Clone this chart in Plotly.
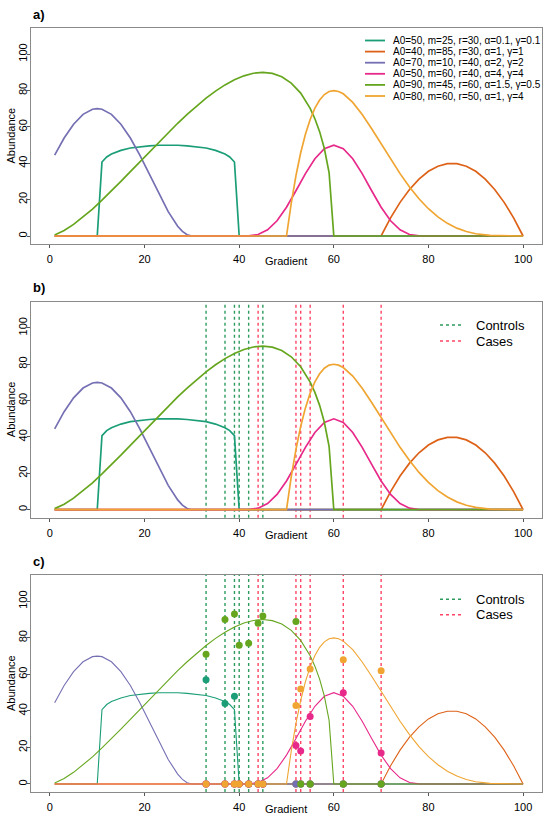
import plotly.graph_objects as go

# species response curves (gradient position, abundance)
sp1_x = [1, 10, 11, 12, 13, 14, 15, 17, 19, 21, 23, 25, 27, 29, 31, 33, 35, 36, 37, 38, 39, 40, 100]
sp1_y = [0, 0, 40.7, 43.5, 45.1, 46.3, 47.1, 48.4, 49.1, 49.6, 49.9, 50, 49.9, 49.6, 49.1, 48.4, 47.1, 46.3, 45.1, 43.5, 40.7, 0, 0]

sp2_x = [1, 70, 72, 74, 76, 78, 80, 82, 84, 85, 86, 88, 90, 92, 94, 96, 98, 100]
sp2_y = [0, 0, 9.96, 18.5, 25.6, 31.3, 35.6, 38.4, 39.8, 40, 39.8, 38.4, 35.6, 31.3, 25.6, 18.5, 9.96, 0]

sp3_x = [1, 3, 5, 7, 9, 10, 11, 13, 15, 17, 19, 21, 23, 25, 27, 28, 29, 30, 100]
sp3_y = [44.5, 53.9, 61.5, 66.9, 69.7, 70, 69.7, 66.9, 61.5, 53.9, 44.5, 34.1, 23.4, 13.4, 5.39, 2.53, 0.67, 0, 0]

sp4_x = [1, 40, 42, 44, 46, 48, 50, 52, 54, 56, 58, 60, 62, 64, 66, 68, 70, 72, 74, 76, 78, 80, 100]
sp4_y = [0, 0, 0.07, 0.84, 3.38, 8.39, 15.8, 24.9, 34.3, 42.5, 48.0, 50, 48.0, 42.5, 34.3, 24.9, 15.8, 8.39, 3.38, 0.84, 0.07, 0, 0]

sp5_x = [1, 3, 5, 7, 9, 11, 13, 15, 17, 19, 21, 23, 25, 27, 29, 31, 33, 35, 37, 39, 41, 43, 45,
         47, 49, 51, 53, 55, 56, 57, 58, 59, 60, 100]
sp5_y = [0.59, 3.02, 6.38, 10.4, 14.8, 19.7, 24.7, 30.0, 35.4, 40.8, 46.3, 51.7, 56.9, 62.0, 66.9, 71.6,
         75.8, 79.7, 83.1, 85.9, 88.1, 89.5, 90, 89.4, 87.6, 84.1, 78.6, 70.2, 64.5, 57.4, 48.1, 34.9, 0, 0]

sp6_x = [1, 50, 51, 52, 53, 54, 55, 56, 57, 58, 59, 60, 61, 62, 64, 66, 68, 70, 72, 74, 76, 78, 80,
         82, 84, 86, 88, 90, 93, 96, 100]
sp6_y = [0, 0, 18.0, 33.2, 45.8, 56.0, 64.1, 70.3, 74.8, 77.8, 79.5, 80, 79.5, 78.2, 73.5, 66.8, 59.0,
         50.6, 42.3, 34.3, 27.0, 20.5, 15.0, 10.5, 6.96, 4.32, 2.46, 1.25, 0.32, 0.04, 0]

labels = ["A0=50, m=25, r=30, α=0.1, γ=0.1",
          "A0=40, m=85, r=30, α=1, γ=1",
          "A0=70, m=10, r=40, α=2, γ=2",
          "A0=50, m=60, r=40, α=4, γ=4",
          "A0=90, m=45, r=60, α=1.5, γ=0.5",
          "A0=80, m=60, r=50, α=1, γ=4"]
colors = ["#1B9E77", "#DD6218", "#7570B3", "#E7298A", "#66A61E", "#F0A532"]

# sampled sites
controls = [33, 37, 39, 40, 42, 45]
cases = [44, 52, 53, 55, 62, 70]
sites = [33, 37, 39, 40, 42, 44, 45, 52, 53, 55, 62, 70]

# observed abundances at the sites
obs1 = [57, 44, 48, 0, 0, 0, 0, 0, 0, 0, 0, 0]
obs2 = [0, 0, 0, 0, 0, 0, 0, 0, 0, 0, 0, 0]
obs3 = [0, 0, 0, 0, 0, 0, 0, 0, 0, 0, 0, 0]
obs4 = [0, 0, 0, 0, 0, 0, 0, 21, 18, 37, 50, 17]
obs5 = [71, 90, 93, 76, 77, 88, 92, 89, 0, 0, 0, 0]
obs6 = [0, 0, 0, 0, 0, 0, 0, 43, 52, 63, 68, 62]

curves = [(sp1_x, sp1_y), (sp2_x, sp2_y), (sp3_x, sp3_y),
          (sp4_x, sp4_y), (sp5_x, sp5_y), (sp6_x, sp6_y)]
observed = [obs1, obs2, obs3, obs4, obs5, obs6]

ctrl_col = "#2E9B5E"
case_col = "#FF4466"
FONT = "Liberation Sans, Arial, Helvetica, sans-serif"

fig = go.Figure()

for panel, (xa, ya) in enumerate([("x", "y"), ("x2", "y2"), ("x3", "y3")]):
    lw = 1.1 if panel == 2 else 1.7
    for (cx, cy), col, lab in zip(curves, colors, labels):
        fig.add_trace(go.Scatter(x=cx, y=cy, mode="lines", line=dict(color=col, width=lw),
                                 xaxis=xa, yaxis=ya, showlegend=False, name=lab))

for obs, col in zip(observed, colors):
    fig.add_trace(go.Scatter(x=sites, y=obs, mode="markers", xaxis="x3", yaxis="y3",
                             marker=dict(color=col, size=7, line=dict(width=0)), showlegend=False))

# dashed site lines in panels b and c
for xa, ya in [("x2", "y2"), ("x3", "y3")]:
    for s in controls:
        fig.add_shape(type="line", xref=xa, yref=ya + " domain", x0=s, x1=s, y0=0, y1=1,
                      line=dict(color=ctrl_col, width=1.4, dash="3px,3px"), layer="below")
    for s in cases:
        fig.add_shape(type="line", xref=xa, yref=ya + " domain", x0=s, x1=s, y0=0, y1=1,
                      line=dict(color=case_col, width=1.4, dash="3px,3px"), layer="below")

W, H = 550, 821
L, R, T, B = 31, 8, 28, 29
def px(x):
    return (x - L) / (W - L - R)
def py(y):
    return (H - B - y) / (H - T - B)

domains = [[py(244), 1.0], [py(517.7), py(301.7)], [0.0, py(575)]]

axis_common = dict(showline=True, mirror=True, linecolor="#8a8a8a", linewidth=1,
                   ticks="outside", ticklen=3, tickcolor="#555555", showgrid=False,
                   zeroline=False, automargin=False, tickfont=dict(size=11, color="black"))

layout = dict(width=W, height=H, margin=dict(l=L, r=R, t=T, b=B, pad=0),
              plot_bgcolor="white", paper_bgcolor="white",
              font=dict(family=FONT, color="black"))
for i, dom in enumerate(domains):
    sfx = "" if i == 0 else str(i + 1)
    layout["xaxis" + sfx] = dict(axis_common, range=[-4, 104], tickvals=[0, 20, 40, 60, 80, 100],
                                 domain=[0, 1], anchor="y" + sfx, ticklabelstandoff=2)
    layout["yaxis" + sfx] = dict(axis_common, range=[-4.4, 114.4], tickvals=[0, 20, 40, 60, 80, 100],
                                 tickangle=-90, domain=dom, anchor="x" + sfx, ticklabelstandoff=-4)
fig.update_layout(**layout)

ann = []
bottoms = [244, 517.7, 792]
tops = [28, 301.7, 575]
for lab, top, bot in zip(["a)", "b)", "c)"], tops, bottoms):
    ann.append(dict(text="<b>" + lab + "</b>", x=px(31), y=py(top - 14), xref="paper", yref="paper",
                    xanchor="left", yanchor="middle", showarrow=False, font=dict(size=13)))
    ann.append(dict(text="Gradient", x=px(286), y=py(bot + 17), xref="paper", yref="paper",
                    xanchor="center", yanchor="middle", showarrow=False, font=dict(size=11)))
    ann.append(dict(text="Abundance", x=px(10.5), y=py((top + bot) / 2), xref="paper", yref="paper",
                    xanchor="center", yanchor="middle", textangle=-90, showarrow=False,
                    font=dict(size=11)))

# legend for panel a
for i, (col, lab) in enumerate(zip(colors, labels)):
    yy = py(40.5 + 11.1 * i)
    fig.add_shape(type="line", xref="paper", yref="paper", x0=px(365), x1=px(385), y0=yy, y1=yy,
                  line=dict(color=col, width=1.8))
    ann.append(dict(text=lab, x=px(391), y=yy, xref="paper", yref="paper", xanchor="left",
                    yanchor="middle", showarrow=False, font=dict(size=10)))

# legends for panels b and c
for rows in [(325, 341), (599.3, 614.7)]:
    for yrow, col, lab in zip(rows, [ctrl_col, case_col], ["Controls", "Cases"]):
        yy = py(yrow)
        fig.add_shape(type="line", xref="paper", yref="paper", x0=px(440), x1=px(462), y0=yy, y1=yy,
                      line=dict(color=col, width=1.4, dash="3px,3px"))
        ann.append(dict(text=lab, x=px(474), y=yy, xref="paper", yref="paper", xanchor="left",
                        yanchor="middle", showarrow=False, font=dict(size=13)))

fig.update_layout(annotations=ann)
# drop the default page margin so the figure fills the window exactly
fig.write_html("out.html", config={"displayModeBar": False},
               post_script="document.body.style.margin='0px';")
